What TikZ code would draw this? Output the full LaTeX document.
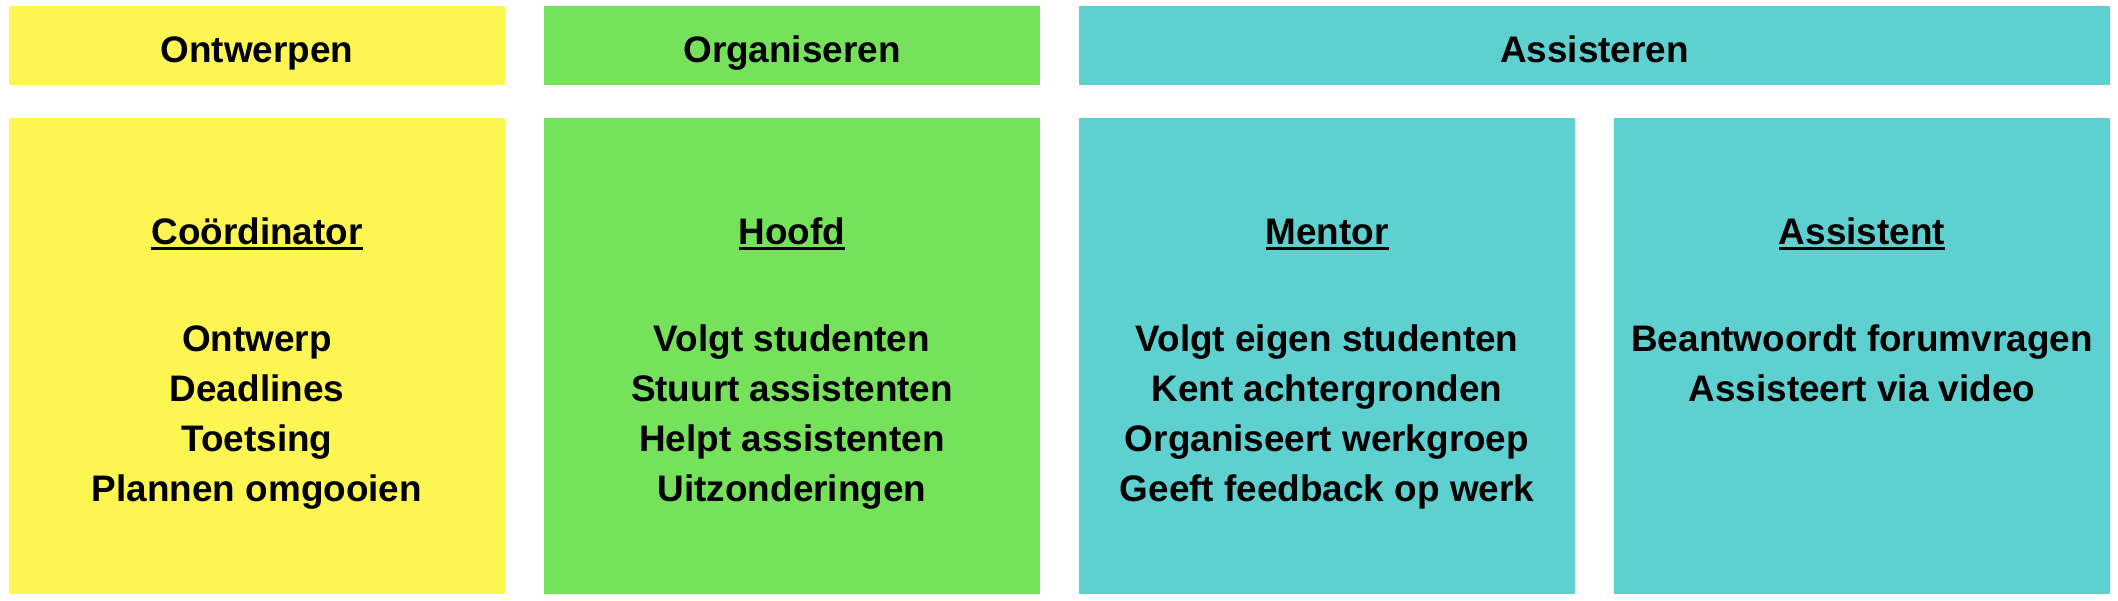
\documentclass[tikz,border=0pt]{standalone}
\usepackage{fontspec}
\setmainfont{Liberation Sans}
\usetikzlibrary{positioning}
\definecolor{geel}{RGB}{253,246,82}
\definecolor{groen}{RGB}{118,225,90}
\definecolor{blauw}{RGB}{95,208,208}
\newcommand{\streep}[1]{\setbox0=\hbox{#1}\rlap{\rule[-1.5pt]{\wd0}{0.85pt}}\box0}

\begin{document}
\begin{tikzpicture}[
	kop/.style={minimum height=0.79cm, inner sep=0pt},
	vak/.style={minimum width=4.96cm, minimum height=4.76cm, inner sep=0pt},
	tekst/.style={font=\bfseries\fontsize{10.5}{14.2}\selectfont, align=center, anchor=base, inner sep=0pt}]
		\useasboundingbox (0,0) rectangle (21.18,6);
		% kopjes
		\node[kop, fill=geel, minimum width=4.96cm] (ontwerpen) at (2.57,5.545) {};
		\node[kop, fill=groen, minimum width=4.96cm] (organiseren) at (7.92,5.545) {};
		\node[kop, fill=blauw, minimum width=10.31cm] (assisteren) at (15.945,5.545) {};
		\node[tekst] at (2.57,5.37) {Ontwerpen};
		\node[tekst] at (7.92,5.37) {Organiseren};
		\node[tekst] at (15.945,5.37) {Assisteren};
		% rollen
		\node[vak, fill=geel] (coordinator) at (2.57,2.44) {};
		\node[vak, fill=groen] (hoofd) at (7.92,2.44) {};
		\node[vak, fill=blauw] (mentor) at (13.27,2.44) {};
		\node[vak, fill=blauw] (assistent) at (18.62,2.44) {};
		\node[tekst] (t1) at (2.57,3.55) {\streep{Coördinator}};
		\node[tekst] (t2) at (7.92,3.55) {\streep{Hoofd}};
		\node[tekst] (t3) at (13.27,3.55) {\streep{Mentor}};
		\node[tekst] (t4) at (18.62,3.55) {\streep{Assistent}};
		% taken (base = laatste regel)
		\node[tekst] (taken1) at (2.57,0.99) {Ontwerp\\Deadlines\\Toetsing\\Plannen omgooien};
		\node[tekst] (taken2) at (7.92,0.99) {Volgt studenten\\Stuurt assistenten\\Helpt assistenten\\Uitzonderingen};
		\node[tekst] (taken3) at (13.27,0.99) {Volgt eigen studenten\\Kent achtergronden\\Organiseert werkgroep\\Geeft feedback op werk};
		\node[tekst] (taken4) at (18.62,1.99) {Beantwoordt forumvragen\\Assisteert via video};
\end{tikzpicture}
\end{document}
